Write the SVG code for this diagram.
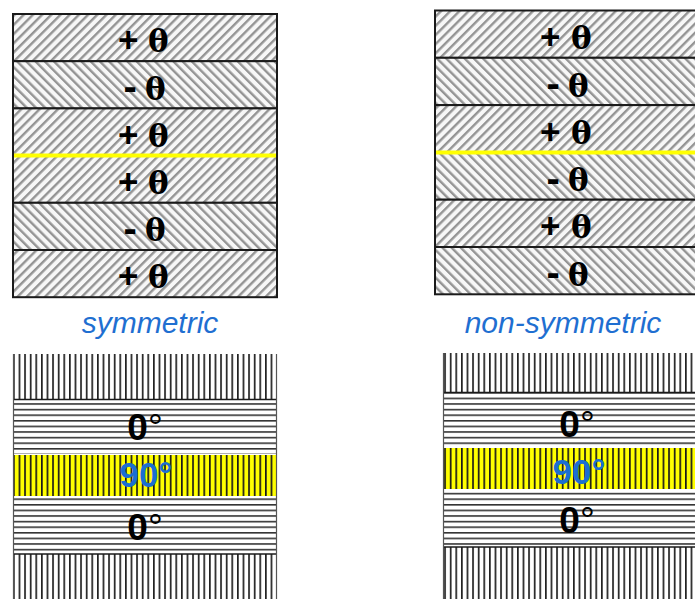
<svg xmlns="http://www.w3.org/2000/svg" width="695" height="599" viewBox="0 0 695 599">
<defs>
<pattern id="pPos" patternUnits="userSpaceOnUse" width="6.5" height="6.5" patternTransform="rotate(45)"><rect width="6.5" height="6.5" fill="#f7f7f7"/><rect width="2.4" height="6.5" fill="#949494"/></pattern>
<pattern id="pNeg" patternUnits="userSpaceOnUse" width="6.5" height="6.5" patternTransform="rotate(-45)"><rect width="6.5" height="6.5" fill="#f7f7f7"/><rect width="2.4" height="6.5" fill="#949494"/></pattern>
<pattern id="pV" patternUnits="userSpaceOnUse" width="5.6" height="10" x="13"><rect width="5.6" height="10" fill="#ffffff"/><rect width="1.7" height="10" fill="#222222"/></pattern>
<pattern id="pVY" patternUnits="userSpaceOnUse" width="5.6" height="10" x="13"><rect width="5.6" height="10" fill="#ffff00"/><rect width="1.7" height="10" fill="#1a1a1a"/></pattern>
<pattern id="pH" patternUnits="userSpaceOnUse" width="10" height="5.6"><rect width="10" height="5.6" fill="#ffffff"/><rect width="10" height="1.6" fill="#333333"/></pattern>
</defs>
<style>
.ply{stroke:#1a1a1a;stroke-width:2}
.sg{font-family:"Liberation Sans",Arial,sans-serif;font-weight:bold;font-size:35px;fill:#000}
.mn{font-family:"Liberation Sans",Arial,sans-serif;font-weight:bold;font-size:40px;fill:#000}
.th{font-family:"DejaVu Serif","Liberation Serif",serif;font-weight:bold;font-size:31px;fill:#000}
.cap{font-family:"Liberation Sans",Arial,sans-serif;font-style:italic;font-size:30px;fill:#1f6fd1;text-anchor:middle}
.deg{font-family:"Liberation Sans",Arial,sans-serif;font-weight:bold;font-size:37px;fill:#000;text-anchor:middle}
.deg tspan{font-weight:normal}
.blu{font-family:"Liberation Sans",Arial,sans-serif;font-weight:bold;font-size:35px;fill:#1b6fd1;text-anchor:middle}
.sep{stroke:#1a1a1a;stroke-width:1.5}
.edge{stroke:#555;stroke-width:1.2}
.mid{stroke:#ffff00;stroke-width:4}
</style>

<!-- Symmetric angle-ply laminate -->
<g id="sym-ply1"><rect class="ply" x="13" y="14" width="264" height="47.2" fill="url(#pPos)"/><text class="sg" x="118" y="52">+</text><text class="th" x="148" y="52">θ</text></g>
<g id="sym-ply2"><rect class="ply" x="13" y="61.2" width="264" height="47.2" fill="url(#pNeg)"/><text class="mn" x="123.5" y="100">-</text><text class="th" x="145" y="99.5">θ</text></g>
<g id="sym-ply3"><rect class="ply" x="13" y="108.4" width="264" height="47.2" fill="url(#pPos)"/><text class="sg" x="118" y="146.5">+</text><text class="th" x="148" y="146.5">θ</text></g>
<g id="sym-ply4"><rect class="ply" x="13" y="155.6" width="264" height="47.2" fill="url(#pPos)"/><text class="sg" x="118" y="193.5">+</text><text class="th" x="148" y="193.5">θ</text></g>
<g id="sym-ply5"><rect class="ply" x="13" y="202.8" width="264" height="47.2" fill="url(#pNeg)"/><text class="mn" x="123.5" y="241.5">-</text><text class="th" x="145" y="241">θ</text></g>
<g id="sym-ply6"><rect class="ply" x="13" y="250" width="264" height="47.2" fill="url(#pPos)"/><text class="sg" x="118" y="288">+</text><text class="th" x="148" y="288">θ</text></g>
<g id="sym-midplane"><line class="mid" x1="14" y1="155.6" x2="276" y2="155.6"/></g>
<g id="sym-label"><text class="cap" x="150" y="333">symmetric</text></g>

<!-- Non-symmetric angle-ply laminate -->
<g id="ns-ply1"><rect class="ply" x="435" y="10.5" width="264" height="47.3" fill="url(#pPos)"/><text class="sg" x="540" y="49">+</text><text class="th" x="571" y="49">θ</text></g>
<g id="ns-ply2"><rect class="ply" x="435" y="57.8" width="264" height="47.3" fill="url(#pNeg)"/><text class="mn" x="546.5" y="97">-</text><text class="th" x="568" y="96.5">θ</text></g>
<g id="ns-ply3"><rect class="ply" x="435" y="105.1" width="264" height="47.3" fill="url(#pPos)"/><text class="sg" x="540" y="143.5">+</text><text class="th" x="571" y="143.5">θ</text></g>
<g id="ns-ply4"><rect class="ply" x="435" y="152.4" width="264" height="47.3" fill="url(#pNeg)"/><text class="mn" x="546.5" y="191.5">-</text><text class="th" x="568" y="191">θ</text></g>
<g id="ns-ply5"><rect class="ply" x="435" y="199.7" width="264" height="47.3" fill="url(#pPos)"/><text class="sg" x="540" y="238">+</text><text class="th" x="571" y="238">θ</text></g>
<g id="ns-ply6"><rect class="ply" x="435" y="247" width="264" height="47.3" fill="url(#pNeg)"/><text class="mn" x="546.5" y="286">-</text><text class="th" x="568" y="285.5">θ</text></g>
<g id="ns-midplane"><line class="mid" x1="436" y1="152.4" x2="695" y2="152.4"/></g>
<g id="ns-label"><text class="cap" x="563" y="333">non-symmetric</text></g>

<!-- Symmetric cross-ply laminate -->
<g id="xsym-ply1"><rect x="13" y="354" width="264" height="45" fill="url(#pV)"/></g>
<g id="xsym-ply2"><rect x="13" y="399" width="264" height="55" fill="url(#pH)"/><line class="sep" x1="13" y1="399.5" x2="277" y2="399.5"/><text class="deg" x="145" y="440">0<tspan>°</tspan></text></g>
<g id="xsym-ply3"><rect x="13" y="455" width="264" height="41" fill="url(#pVY)"/><text class="blu" x="146" y="487">90°</text></g>
<g id="xsym-ply4"><rect x="13" y="497" width="264" height="57" fill="url(#pH)"/><text class="deg" x="145" y="540">0<tspan>°</tspan></text></g>
<g id="xsym-ply5"><rect x="13" y="554" width="264" height="45" fill="url(#pV)"/><line class="sep" x1="13" y1="554" x2="277" y2="554"/></g>
<g id="xsym-edges"><line class="edge" x1="13.5" y1="354" x2="13.5" y2="599"/><line class="edge" x1="276.5" y1="354" x2="276.5" y2="599"/></g>

<!-- Non-symmetric cross-ply laminate -->
<g id="xns-ply1"><rect x="443" y="353" width="256" height="39" fill="url(#pV)"/></g>
<g id="xns-ply2"><rect x="443" y="392" width="256" height="56" fill="url(#pH)"/><line class="sep" x1="443" y1="392.5" x2="695" y2="392.5"/><text class="deg" x="577" y="437">0<tspan>°</tspan></text></g>
<g id="xns-ply3"><rect x="443" y="448" width="256" height="41" fill="url(#pVY)"/><text class="blu" x="579" y="484">90°</text></g>
<g id="xns-ply4"><rect x="443" y="490" width="256" height="57" fill="url(#pH)"/><text class="deg" x="577" y="533">0<tspan>°</tspan></text></g>
<g id="xns-ply5"><rect x="443" y="547" width="256" height="52" fill="url(#pV)"/><line class="sep" x1="443" y1="547" x2="695" y2="547"/></g>
<g id="xns-edges"><line class="edge" x1="443.5" y1="353" x2="443.5" y2="599"/></g>
</svg>
